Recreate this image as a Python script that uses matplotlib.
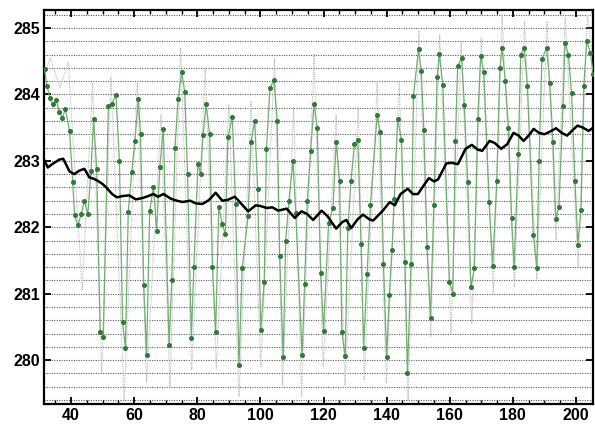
import matplotlib
matplotlib.use("Agg")
import matplotlib.pyplot as plt
from matplotlib.ticker import MultipleLocator, FixedLocator

plt.rcParams['font.family'] = ['Liberation Sans', 'DejaVu Sans']

# ---- data ----
green_x = [31.6, 32.3, 33.3, 34.3, 35.3, 36.3, 37.2, 38.2, 39.5, 40.5, 41.1, 42.1, 43.2, 44.2, 45.3,
           46.3, 47.1, 48.1, 49.2, 50.2, 51.8, 52.8, 54.2, 55.3, 56.3, 57.2, 58.1, 59.2, 60.2, 61.3,
           62.0, 63.0, 63.9, 64.9, 66.1, 67.1, 68.1, 69.2, 71.05, 71.9, 72.9, 73.9, 75.05, 76.0, 76.9,
           78.1, 78.9, 80.2, 81.05, 81.8, 82.8, 83.9, 84.8, 85.8, 86.8, 87.9, 88.9, 89.7,
           91.1, 92.1, 93.2, 94.2, 96.1, 97.0, 98.2, 99.1, 100.1, 101.2, 101.9, 103.0, 104.3, 105.3,
           106.1, 107.2, 108.0, 109.0, 110.3, 111.2, 113.2, 114.0, 114.85, 115.9, 117.0, 118.0, 119.1,
           120.0, 121.6, 123.0, 124.0, 125.1, 125.8, 126.85, 127.7, 128.7, 129.8, 130.85, 131.9, 132.7,
           133.8, 134.85, 137.0, 138.0, 139.0, 140.0, 140.85, 141.7, 142.4, 143.5, 144.7, 145.8, 146.6,
           147.7, 148.5, 150.1, 150.95, 151.8, 152.8, 153.9, 154.95, 156.0, 156.7, 157.8, 159.9, 160.95,
           161.8, 162.5, 163.8, 164.6, 165.7, 166.7, 167.8, 168.9, 169.8, 170.8, 172.5, 173.6, 174.9,
           175.9, 176.6, 177.6, 178.6, 179.6, 180.4, 181.7, 182.5, 183.6, 184.6, 186.5, 187.6, 188.3,
           189.2, 190.7, 191.7, 192.7, 193.6, 194.6, 195.9, 196.5, 197.6, 198.6, 199.7, 200.6, 201.6,
           202.5, 203.4, 204.6, 205.5]
green_y = [284.38, 284.13, 283.95, 283.85, 283.91, 283.73, 283.65, 283.78, 283.45, 282.68, 282.18, 282.03, 282.2, 282.4, 282.2,
           282.85, 283.63, 282.88, 280.43, 280.35, 283.83, 283.85, 283.99, 283.0, 280.58, 280.18, 282.23, 282.83, 283.3, 283.93,
           283.4, 281.13, 280.07, 282.25, 282.6, 281.95, 282.9, 283.48, 280.23, 281.2, 283.19, 283.93, 284.33, 284.04, 282.8,
           280.34, 281.4, 282.95, 282.8, 283.39, 283.85, 283.4, 281.4, 280.42, 282.3, 282.05, 281.9, 283.36,
           283.66, 282.35, 279.92, 281.38, 282.17, 283.29, 283.6, 282.58, 280.45, 281.18, 283.18, 284.09, 284.22, 283.6,
           281.57, 280.04, 281.8, 282.39, 283.0, 282.22, 280.07, 281.15, 282.39, 283.15, 283.85, 283.5, 281.31,
           280.44, 282.07, 282.29, 283.29, 282.69, 280.42, 280.06, 281.99, 282.69, 283.26, 283.31, 281.75, 280.19,
           281.3, 282.34, 283.69, 283.43, 281.44, 280.05, 280.98, 281.66, 282.42, 283.63, 283.31, 281.48, 279.8,
           281.45, 283.98, 284.68, 284.35, 283.46, 281.7, 280.63, 282.34, 284.26, 284.61, 284.14, 281.18, 281.0,
           283.3, 284.43, 284.55, 283.84, 282.68, 281.1, 281.38, 283.63, 284.58, 284.33, 282.38, 281.42, 282.69,
           284.4, 284.7, 284.2, 283.5, 282.14, 281.4, 283.1, 284.6, 284.7, 284.13, 281.88, 281.39, 283.0,
           284.53, 284.7, 284.17, 283.29, 282.13, 282.3, 283.83, 284.77, 284.6, 284.02, 282.69, 281.74, 282.26,
           284.13, 284.8, 284.62, 284.3]

gray_x = [31.5, 33.4, 36.5, 39.1, 43.5, 46.8, 49.7, 52.6, 56.8, 61.0, 63.9, 68.5, 71.3, 74.7, 78.2,
          82.5, 86.0, 90.0, 93.2, 97.0, 100.1, 104.5, 107.0, 110.5, 113.0, 117.0, 119.9, 124.0, 126.8,
          131.0, 132.9, 137.0, 139.9, 144.0, 146.8, 150.2, 154.0, 156.8, 160.4, 163.6, 167.0, 170.0,
          173.8, 176.6, 180.5, 183.7, 187.6, 190.8, 193.7, 196.6, 200.7, 203.6, 205.5]
gray_y = [284.3, 284.55, 284.1, 284.48, 281.05, 284.17, 279.8, 284.27, 279.4, 284.2, 279.67, 283.7, 279.58, 284.7, 279.85,
          284.4, 279.88, 283.85, 279.45, 283.9, 279.9, 284.55, 279.62, 283.8, 279.45, 284.6, 279.9, 283.7, 279.63,
          283.8, 279.7, 284.2, 279.65, 284.2, 279.4, 284.95, 280.35, 284.9, 280.4, 284.8, 280.55, 284.85,
          281.0, 285.2, 281.1, 285.1, 281.2, 285.1, 281.8, 285.15, 281.4, 285.2, 284.5]

black_x = [31.6, 32.6, 34.0, 36.3, 37.5, 39.5, 41.0, 42.5, 44.2, 45.8, 47.2, 48.4, 50.0, 51.1, 53.0,
           54.5, 56.3, 58.4, 60.5, 62.6, 64.5, 66.0, 67.5, 69.3, 71.6, 73.5, 75.3, 77.7, 79.5, 81.6,
           83.7, 85.8, 87.9, 89.5, 91.9, 94.0, 96.1, 98.5, 100.0, 102.0, 103.8, 105.6, 108.3, 110.9,
           113.0, 114.8, 116.7, 119.4, 121.2, 124.0, 126.0, 127.2, 128.8, 130.8, 132.5, 134.5, 135.7,
           138.8, 141.0, 142.6, 144.4, 146.7, 148.3, 149.9, 151.6, 153.4, 155.0, 156.3, 158.9, 160.5,
           162.6, 165.0, 167.0, 168.8, 170.3, 172.6, 174.2, 176.3, 178.2, 180.2, 181.8, 183.4, 185.0,
           186.6, 188.3, 190.0, 191.8, 193.7, 195.5, 197.2, 198.9, 200.5, 202.2, 204.0, 205.5]
black_y = [283.0, 282.9, 282.95, 283.02, 283.03, 282.84, 282.8, 282.85, 282.88, 282.75, 282.73, 282.7, 282.65, 282.6, 282.5,
           282.45, 282.47, 282.48, 282.42, 282.44, 282.47, 282.5, 282.46, 282.5, 282.43, 282.4, 282.38, 282.4, 282.36, 282.35,
           282.41, 282.52, 282.4, 282.41, 282.46, 282.35, 282.24, 282.33, 282.32, 282.29, 282.3, 282.25, 282.28, 282.14,
           282.24, 282.2, 282.11, 282.25, 282.17, 281.98, 282.08, 282.11, 281.99, 282.12, 282.19, 282.12, 282.1,
           282.25, 282.38, 282.33, 282.5, 282.58, 282.5, 282.5, 282.62, 282.74, 282.69, 282.72, 282.96, 282.97,
           282.95, 283.18, 283.24, 283.17, 283.15, 283.3, 283.27, 283.18, 283.25, 283.42, 283.38, 283.3, 283.38,
           283.48, 283.42, 283.4, 283.44, 283.49, 283.42, 283.38, 283.46, 283.53, 283.5, 283.45, 283.5]

x_ticks = [40, 60, 80, 100, 120, 140, 160, 180, 200]
y_ticks = [280, 281, 282, 283, 284, 285]

# ---- figure ----
fig = plt.figure(figsize=(5.95, 4.30), dpi=100)
ax = fig.add_axes([44/595, 1 - 404/430, (593 - 44)/595, (404 - 10)/430])

ax.set_xlim(31.4, 205.4)
ax.set_ylim(279.34, 285.27)

# horizontal dotted grid every 0.2
for i in range(30):
    yv = 279.4 + 0.2 * i
    ax.axhline(yv, color='#5a5a5a', lw=0.8, ls=(0, (1, 1.2)), zorder=1)

ax.plot(gray_x, gray_y, color='#bdbdbd', lw=0.8, ls=(0, (1, 1)), zorder=2)
ax.plot(green_x, green_y, color='#72ad72', lw=0.9, marker='o', ms=2.6,
        mfc='#2f7a35', mec='#2f7a35', zorder=3)
ax.plot(black_x, black_y, color='black', lw=1.8, zorder=4, solid_joinstyle='round')

ax.xaxis.set_major_locator(FixedLocator(x_ticks))
ax.xaxis.set_minor_locator(MultipleLocator(5))
ax.yaxis.set_major_locator(FixedLocator(y_ticks))
ax.tick_params(axis='both', which='both', direction='in', top=True, right=True)
ax.tick_params(axis='both', which='major', length=5, width=1.3, labelsize=11.5, pad=3)
ax.tick_params(axis='both', which='minor', length=3, width=1.0)
for lab in ax.get_xticklabels() + ax.get_yticklabels():
    lab.set_fontweight('bold')
for sp in ax.spines.values():
    sp.set_linewidth(1.6)

fig.savefig('out.png', dpi=100)
